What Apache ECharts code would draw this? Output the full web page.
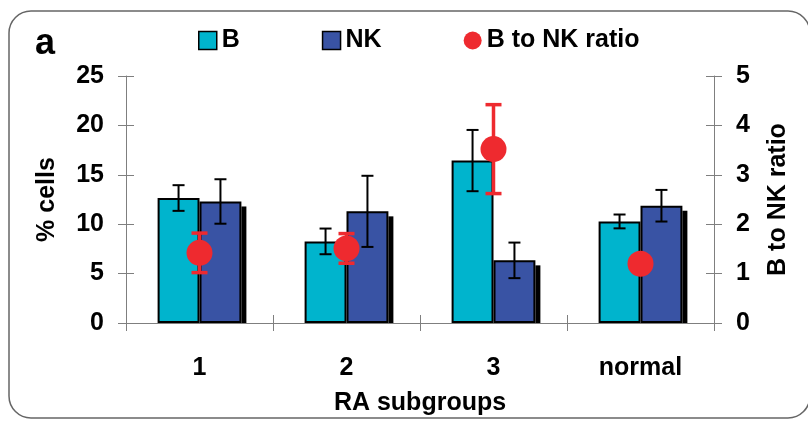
<!DOCTYPE html>
<html>
<head>
<meta charset="utf-8">
<script src="https://cdn.jsdelivr.net/npm/echarts@6/dist/echarts.min.js"></script>
<style>html,body{margin:0;padding:0;background:#fff}#c{width:808px;height:421px}</style>
</head>
<body>
<div id="c"></div>
<script>
var categories = ['1', '2', '3', 'normal'];
var bValues = [12.65, 8.26, 16.44, 10.28];
var bErrors = [1.3, 1.3, 3.1, 0.7];
var nkValues = [12.3, 11.3, 6.34, 11.87];
var nkErrors = [2.25, 3.6, 1.8, 1.6];
var ratioValues = [1.42, 1.51, 3.52, 1.2];
var ratioErrors = [0.4, 0.3, 0.9, 0];
var leftTicks = [0, 5, 10, 15, 20, 25];
var rightTicks = [0, 1, 2, 3, 4, 5];

var FONT = 'Liberation Sans, Arial, sans-serif';
var FS = 25;
var GAP = 0.43;
var BAR_FRAC = (1 - GAP) / 2;
var AXIS_COLOR = '#7f7f7f';

function errSeries(name, values, errs, pos, color, lw, capHalf, yIdx, z) {
  var data = values.map(function (v, i) { return [i, v, errs[i]]; });
  return {
    name: name, type: 'custom', yAxisIndex: yIdx, z: z, silent: true,
    data: data,
    renderItem: function (params, api) {
      var i = api.value(0), v = api.value(1), e = api.value(2);
      if (!e) return null;
      var band = api.size([1, 0])[0];
      var bw = band * BAR_FRAC;
      var c = api.coord([i, v]);
      var x = c[0] + pos * bw / 2;
      var hi = api.coord([i, v + e])[1];
      var lo = api.coord([i, v - e])[1];
      var st = { stroke: color, lineWidth: lw };
      return {
        type: 'group',
        children: [
          { type: 'line', shape: { x1: x, y1: hi, x2: x, y2: lo }, style: st },
          { type: 'line', shape: { x1: x - capHalf, y1: hi, x2: x + capHalf, y2: hi }, style: st },
          { type: 'line', shape: { x1: x - capHalf, y1: lo, x2: x + capHalf, y2: lo }, style: st }
        ]
      };
    }
  };
}

var chart = echarts.init(document.getElementById('c'));
function ts(extra) {
  var o = { fontFamily: FONT, fontWeight: 'bold', fontSize: FS, color: '#000' };
  for (var k in extra) o[k] = extra[k];
  return o;
}

var option = {
  backgroundColor: '#fff',
  animation: false,
  graphic: [
    { type: 'rect', shape: { x: 9, y: 11, width: 801, height: 407, r: 22 },
      style: { fill: 'none', stroke: '#666', lineWidth: 1.5 }, z: -1 },
    { type: 'text', left: 35, top: 26,
      style: { text: 'a', font: 'bold 36px ' + FONT, fill: '#000' } }
  ],
  legend: {
    left: 193, top: 23, itemWidth: 18, itemHeight: 18, itemGap: 82,
    textStyle: ts({}),
    data: [
      { name: 'B', icon: 'rect', itemStyle: { borderColor: '#000', borderWidth: 1.5 } },
      { name: 'NK', icon: 'rect', itemStyle: { borderColor: '#000', borderWidth: 1.5 } },
      { name: 'B to NK ratio', icon: 'circle' }
    ],
    selectedMode: false
  },
  grid: { left: 126, right: 94, top: 76, bottom: 97.5 },
  xAxis: [{
    type: 'category', data: categories,
    name: 'RA subgroups', nameLocation: 'middle', nameGap: 68,
    nameTextStyle: ts({}),
    axisLine: { lineStyle: { color: AXIS_COLOR, width: 1 } },
    axisTick: { show: true, length: 8, lineStyle: { color: AXIS_COLOR } },
    axisLabel: ts({ margin: 33 })
  }, {
    type: 'category', data: categories, position: 'bottom', gridIndex: 0,
    axisLine: { show: false },
    axisTick: { show: true, inside: true, length: 8, lineStyle: { color: AXIS_COLOR } },
    axisLabel: { show: false }
  }],
  yAxis: [{
    type: 'value', min: leftTicks[0], max: leftTicks[leftTicks.length - 1], interval: 5,
    name: '% cells', nameLocation: 'middle', nameGap: 66,
    nameTextStyle: ts({}),
    axisLine: { show: true, lineStyle: { color: AXIS_COLOR, width: 1 } },
    axisTick: { show: true, length: 8, lineStyle: { color: AXIS_COLOR } },
    axisLabel: ts({ margin: 22 }),
    splitLine: { show: false }
  }, {
    type: 'value', min: rightTicks[0], max: rightTicks[rightTicks.length - 1], interval: 1, position: 'right',
    name: 'B to NK ratio', nameLocation: 'middle', nameGap: 52,
    nameTextStyle: ts({}),
    axisLine: { show: true, lineStyle: { color: AXIS_COLOR, width: 1 } },
    axisTick: { show: true, length: 8, lineStyle: { color: AXIS_COLOR } },
    axisLabel: ts({ margin: 22 }),
    splitLine: { show: false }
  }, {
    type: 'value', min: leftTicks[0], max: leftTicks[leftTicks.length - 1], interval: 5, position: 'left',
    axisLine: { show: false }, axisLabel: { show: false }, splitLine: { show: false },
    axisTick: { show: true, inside: true, length: 8, lineStyle: { color: AXIS_COLOR } }
  }, {
    type: 'value', min: rightTicks[0], max: rightTicks[rightTicks.length - 1], interval: 1, position: 'right',
    axisLine: { show: false }, axisLabel: { show: false }, splitLine: { show: false },
    axisTick: { show: true, inside: true, length: 8, lineStyle: { color: AXIS_COLOR } }
  }],
  series: [
    {
      name: 'NK shadow', type: 'custom', z: 1, silent: true,
      data: nkValues.map(function (v, i) { return [i, v]; }),
      renderItem: function (params, api) {
        var i = api.value(0), v = api.value(1);
        var band = api.size([1, 0])[0];
        var bw = band * BAR_FRAC;
        var top = api.coord([i, v]);
        var base = api.coord([i, 0]);
        return { type: 'rect', shape: { x: top[0] + bw, y: top[1] + 5, width: 5, height: base[1] - top[1] - 5 },
          style: { fill: '#000' } };
      }
    },
    {
      name: 'B', type: 'bar', data: bValues, barGap: 0, barCategoryGap: (GAP * 100) + '%', z: 2,
      itemStyle: { color: '#00b4cd', borderColor: '#000', borderWidth: 2 }
    },
    {
      name: 'NK', type: 'bar', data: nkValues, barGap: 0, barCategoryGap: (GAP * 100) + '%', z: 2,
      itemStyle: { color: '#3953a4', borderColor: '#000', borderWidth: 2 }
    },
    errSeries('B err', bValues, bErrors, -1, '#000', 2, 6, 0, 3),
    errSeries('NK err', nkValues, nkErrors, 1, '#000', 2, 6, 0, 3),
    errSeries('ratio err', ratioValues, ratioErrors, 0, '#ee2a2f', 3.5, 8, 1, 4),
    {
      name: 'B to NK ratio', type: 'scatter', yAxisIndex: 1, data: ratioValues, z: 5,
      symbol: 'circle', symbolSize: 26, itemStyle: { color: '#ee2a2f', opacity: 1 }
    }
  ]
};
chart.setOption(option);
</script>
</body>
</html>
